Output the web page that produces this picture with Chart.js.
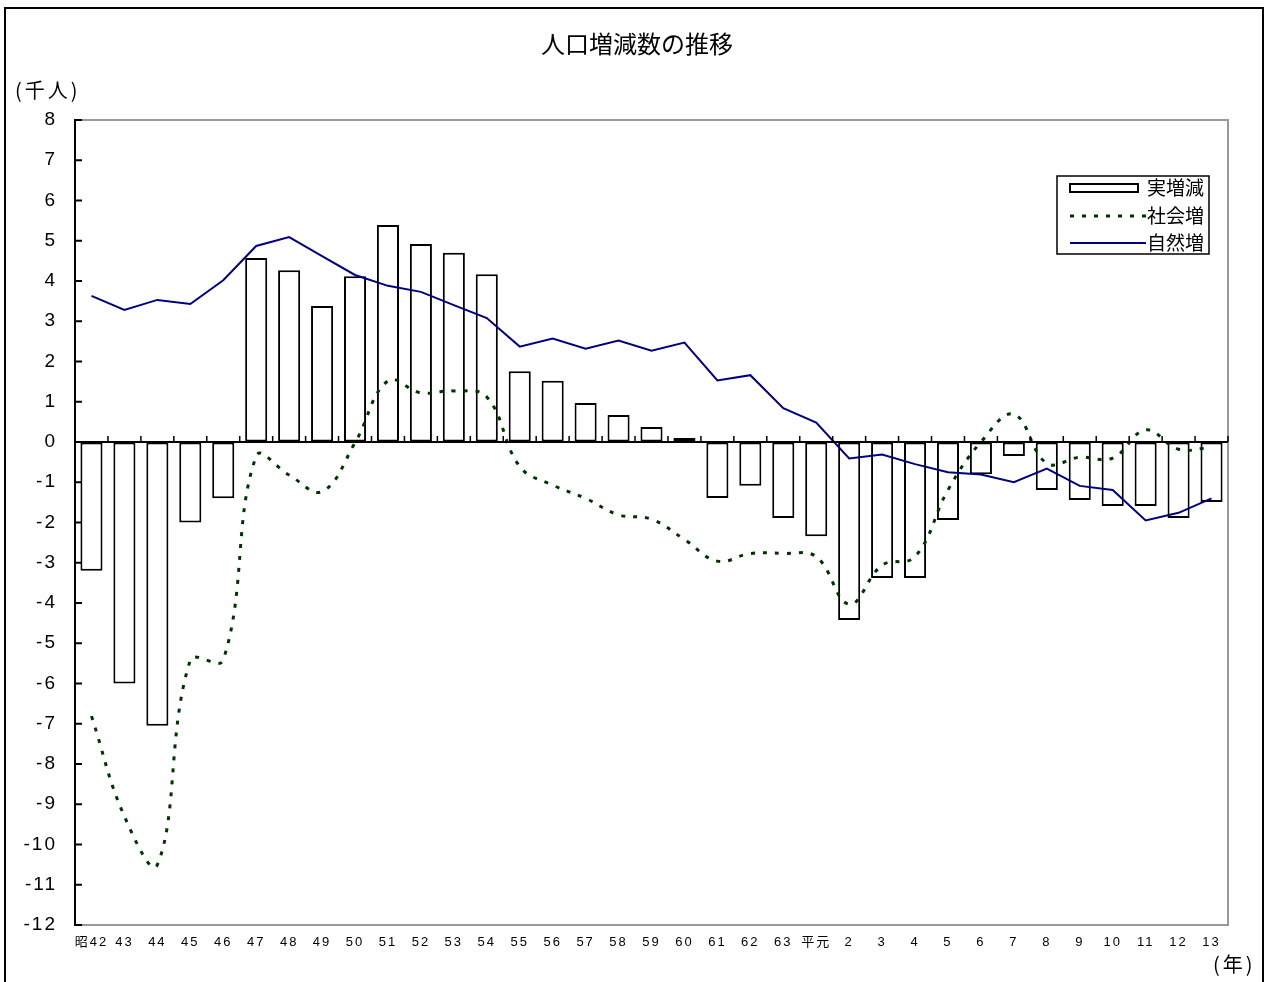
<!DOCTYPE html>
<html>
<head>
<meta charset="utf-8">
<script src="https://cdn.jsdelivr.net/npm/chart.js@4/dist/chart.umd.min.js"></script>
<style>
  html, body { margin: 0; padding: 0; background: #fff; }
  #wrap { position: relative; width: 1266px; height: 982px; }
</style>
</head>
<body>
<div id="wrap"><canvas id="chart-population"></canvas></div>
<script>
// categories (年)
const categories = ['昭42', '43', '44', '45', '46', '47', '48', '49', '50', '51', '52', '53', '54', '55', '56', '57', '58', '59', '60', '61', '62', '63', '平元', '2', '3', '4', '5', '6', '7', '8', '9', '10', '11', '12', '13'];

// 実増減 (千人)
const netChange = [-3.2, -6.0, -7.05, -2.0, -1.4, 4.57, 4.27, 3.38, 4.12, 5.39, 4.92, 4.70, 4.17, 1.76, 1.52, 0.97, 0.67, 0.37, 0.10, -1.39, -1.09, -1.89, -2.34, -4.42, -3.38, -3.38, -1.94, -0.80, -0.35, -1.19, -1.44, -1.59, -1.59, -1.89, -1.49];

// 社会増 (千人)
const socialChange = [-6.81, -9.3, -10.5, -5.42, -5.42, -0.35, -0.82, -1.23, -0.02, 1.52, 1.22, 1.27, 1.12, -0.61, -1.07, -1.40, -1.81, -1.92, -2.42, -2.96, -2.77, -2.77, -2.85, -4.03, -3.06, -2.85, -1.19, 0.0, 0.69, -0.53, -0.38, -0.40, 0.30, -0.18, -0.13];

// 自然増 (千人)
const naturalChange = [3.63, 3.28, 3.53, 3.43, 4.02, 4.87, 5.09, 4.62, 4.15, 3.88, 3.73, 3.40, 3.08, 2.37, 2.57, 2.32, 2.52, 2.27, 2.47, 1.53, 1.66, 0.84, 0.48, -0.41, -0.31, -0.55, -0.75, -0.81, -1.0, -0.66, -1.09, -1.19, -1.95, -1.76, -1.40];

const yMin = -12, yMax = 8, yStep = 1;

const FONT = '"Noto Sans CJK JP", "Noto Sans", sans-serif';
const NUM_FONT = '"Liberation Sans", Arial, "Noto Sans CJK JP", sans-serif';
const GREEN = '#003300';
const NAVY = '#000080';

// spaced-out tick labels like the original
function spaceLabels(chart, scale, spacing) {
  if (scale._spaced) return;
  const orig = scale.drawLabels.bind(scale);
  scale.drawLabels = (area) => {
    chart.ctx.save();
    chart.ctx.letterSpacing = spacing;
    orig(area);
    chart.ctx.restore();
  };
  scale._spaced = true;
}

// frame, title, unit labels, inner ticks, legend
const decorations = {
  id: 'decorations',
  afterLayout(chart) {
    spaceLabels(chart, chart.scales.x, '2px');
    spaceLabels(chart, chart.scales.y, '2px');
  },
  beforeDraw(chart) {
    const c = chart.ctx;
    c.save();
    c.fillStyle = '#fff';
    c.fillRect(0, 0, chart.width, chart.height);
    c.strokeStyle = '#000';
    c.lineWidth = 2;
    c.strokeRect(5, 8, 1258, 990);
    c.restore();
  },
  afterDatasetsDraw(chart) {
    const c = chart.ctx;
    const a = chart.chartArea;
    const xs = chart.scales.x, ys = chart.scales.y;
    c.save();
    // top/right plot border
    c.strokeStyle = '#999';
    c.lineWidth = 2;
    c.beginPath();
    c.moveTo(a.left, a.top);
    c.lineTo(a.right, a.top);
    c.lineTo(a.right, a.bottom);
    c.stroke();
    // y ticks pointing inward
    c.strokeStyle = '#000';
    c.lineWidth = 2;
    c.beginPath();
    ys.ticks.forEach((t) => {
      const y = ys.getPixelForValue(t.value);
      c.moveTo(a.left, y);
      c.lineTo(a.left + 7, y);
    });
    c.stroke();
    // zero line with category ticks
    const y0 = ys.getPixelForValue(0);
    c.beginPath();
    c.moveTo(a.left, y0);
    c.lineTo(a.right, y0);
    c.stroke();
    c.lineWidth = 1.5;
    c.beginPath();
    for (let i = 0; i <= categories.length; i++) {
      let x;
      if (i === 0) x = a.left;
      else if (i === categories.length) x = a.right;
      else x = (xs.getPixelForValue(i - 1) + xs.getPixelForValue(i)) / 2;
      c.moveTo(x, y0);
      c.lineTo(x, y0 - 6);
    }
    c.stroke();

    // texts
    c.fillStyle = '#000';
    c.textBaseline = 'middle';
    c.textAlign = 'center';
    c.font = '24px ' + FONT;
    c.fillText('人口増減数の推移', 637, 44);
    c.textAlign = 'left';
    c.font = '20px ' + FONT;
    c.letterSpacing = '3px';
    c.fillText('(千人)', 15, 90);
    c.fillText('(年)', 1213, 964);
    c.letterSpacing = '0px';

    // legend
    const lx = 1057, ly = 176, lw = 152, lh = 78;
    c.fillStyle = '#fff';
    c.fillRect(lx, ly, lw, lh);
    c.strokeStyle = '#000';
    c.lineWidth = 1.5;
    c.strokeRect(lx, ly, lw, lh);
    const ds = chart.data.datasets;
    const rows = [188, 216, 243];
    ds.forEach((d, i) => {
      const ry = rows[i];
      if (d.type === 'bar') {
        c.fillStyle = '#fff';
        c.fillRect(1070, ry - 4, 68, 8);
        c.strokeStyle = '#000';
        c.lineWidth = 2;
        c.strokeRect(1070, ry - 4, 68, 8);
      } else {
        c.strokeStyle = d.borderColor;
        c.lineWidth = d.borderWidth;
        c.setLineDash(d.borderDash || []);
        c.beginPath();
        c.moveTo(1070, ry);
        c.lineTo(1146, ry);
        c.stroke();
        c.setLineDash([]);
      }
      c.fillStyle = '#000';
      c.font = '19px ' + FONT;
      c.textAlign = 'left';
      c.fillText(d.label, 1147, ry);
    });
    c.restore();
  }
};

const ctx = document.getElementById('chart-population').getContext('2d');
new Chart(ctx, {
  plugins: [decorations],
  data: {
    labels: categories,
    datasets: [
      {
        type: 'bar',
        label: '実増減',
        data: netChange,
        backgroundColor: '#fff',
        borderColor: '#000',
        borderWidth: 2,
        borderSkipped: false,
        categoryPercentage: 1,
        barPercentage: 0.67,
        order: 3,
      },
      {
        type: 'line',
        label: '社会増',
        data: socialChange,
        borderColor: GREEN,
        borderWidth: 3,
        borderDash: [4, 8],
        tension: 0.4,
        pointRadius: 0,
        fill: false,
        order: 2,
      },
      {
        type: 'line',
        label: '自然増',
        data: naturalChange,
        borderColor: NAVY,
        borderWidth: 2,
        tension: 0,
        pointRadius: 0,
        fill: false,
        order: 1,
      },
    ],
  },
  options: {
    responsive: true,
    maintainAspectRatio: false,
    animation: false,
    devicePixelRatio: 1,
    layout: { padding: { left: 0, top: 120, right: 38, bottom: 0 } },
    plugins: {
      legend: { display: false },
      tooltip: { enabled: false },
    },
    scales: {
      x: {
        offset: true,
        grid: { display: false, drawTicks: false },
        border: { display: true, color: '#999', width: 2 },
        ticks: {
          color: '#000',
          font: { family: NUM_FONT, size: 13 },
          padding: 10,
          maxRotation: 0,
          autoSkip: false,
        },
        afterFit: (s) => { s.height = 57; },
      },
      y: {
        min: yMin,
        max: yMax,
        border: { display: true, color: '#000', width: 2 },
        grid: { drawOnChartArea: false, drawTicks: false },
        ticks: {
          stepSize: yStep,
          color: '#000',
          font: { family: NUM_FONT, size: 19 },
          padding: 18,
        },
        afterFit: (s) => { s.width = 75; },
      },
    },
  },
});
</script>
</body>
</html>
